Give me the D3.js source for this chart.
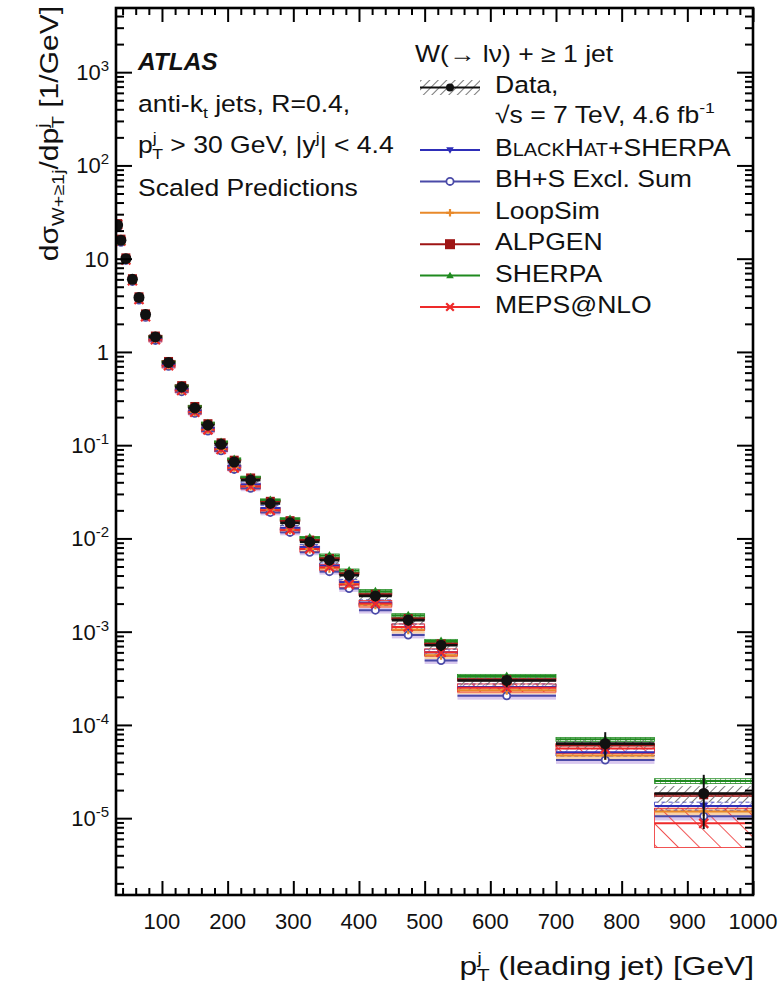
<!DOCTYPE html>
<html>
<head>
<meta charset="utf-8">
<script src="https://cdn.jsdelivr.net/npm/d3@7"></script>
<style>
  html, body { margin: 0; padding: 0; background: #fff; }
  svg { display: block; font-family: "Liberation Sans", Arial, Helvetica, sans-serif; }
</style>
</head>
<body>
<svg id="chart" width="783" height="990"></svg>
<script>
// Leading-jet pT bins [GeV]
const binEdges = [30, 35, 40, 50, 60, 70, 80, 100, 120, 140, 160, 180, 200, 220, 250,
                  280, 310, 340, 370, 400, 450, 500, 550, 700, 850, 1000];

// Measured cross section dσ/dpT [1/GeV]
const dataValues = [22.9, 15.8, 10.0, 6.0, 3.84, 2.52, 1.45, 0.77, 0.42, 0.25, 0.164, 0.102, 0.066,
                    0.0422, 0.0237, 0.0147, 0.00918, 0.00585, 0.00403, 0.00242, 0.00133, 0.000716,
                    0.00030, 0.000063, 0.0000184];
// relative statistical and systematic uncertainties of the data
const dataStat = [0.004, 0.004, 0.004, 0.004, 0.005, 0.005, 0.005, 0.006, 0.008, 0.010, 0.012, 0.014, 0.017,
                  0.020, 0.025, 0.030, 0.035, 0.040, 0.045, 0.050, 0.060, 0.080, 0.10, 0.30, 0.55];
const dataSys  = [0.10, 0.09, 0.08, 0.08, 0.08, 0.08, 0.08, 0.08, 0.08, 0.08, 0.08, 0.08, 0.09,
                  0.09, 0.09, 0.09, 0.10, 0.10, 0.10, 0.10, 0.11, 0.11, 0.12, 0.13, 0.20];

// Scaled predictions
const blackhatValues = [22.0, 15.5, 9.9, 5.9, 3.75, 2.45, 1.40, 0.74, 0.40, 0.235, 0.153, 0.094, 0.060,
                        0.038, 0.0212, 0.0130, 0.0081, 0.0051, 0.0034, 0.00205, 0.00112, 0.000600,
                        0.000255, 0.000051, 0.0000135];
const blackhatUnc = [0.05, 0.05, 0.05, 0.05, 0.05, 0.05, 0.05, 0.05, 0.05, 0.05, 0.05, 0.05, 0.05,
                     0.06, 0.06, 0.06, 0.06, 0.07, 0.07, 0.07, 0.08, 0.08, 0.08, 0.09, 0.10];

const exclSumValues = [21.5, 15.0, 9.6, 5.7, 3.6, 2.35, 1.33, 0.70, 0.375, 0.22, 0.142, 0.087, 0.055,
                       0.0345, 0.019, 0.0116, 0.0071, 0.0044, 0.0029, 0.00170, 0.00092, 0.00049,
                       0.000205, 0.000042, 0.0000105];
const exclSumUnc = [0.06, 0.06, 0.06, 0.06, 0.06, 0.06, 0.06, 0.06, 0.06, 0.06, 0.06, 0.06, 0.06,
                    0.07, 0.07, 0.07, 0.07, 0.07, 0.08, 0.08, 0.08, 0.08, 0.09, 0.09, 0.10];

const loopsimValues = [22.6, 15.6, 9.9, 5.9, 3.75, 2.45, 1.39, 0.73, 0.39, 0.228, 0.148, 0.091, 0.058,
                       0.0365, 0.0203, 0.0124, 0.0077, 0.0048, 0.0033, 0.00195, 0.00105, 0.000560,
                       0.000235, 0.000047, 0.0000118];
const loopsimUnc = [0.06, 0.06, 0.06, 0.06, 0.06, 0.06, 0.06, 0.06, 0.06, 0.06, 0.06, 0.06, 0.07,
                    0.07, 0.07, 0.07, 0.08, 0.08, 0.08, 0.08, 0.09, 0.09, 0.09, 0.10, 0.10];

const alpgenValues = [23.8, 16.2, 10.2, 6.1, 3.9, 2.56, 1.48, 0.79, 0.435, 0.26, 0.170, 0.106, 0.069,
                      0.0445, 0.0250, 0.0155, 0.0096, 0.0061, 0.0042, 0.00252, 0.00138, 0.00074,
                      0.000305, 0.000061, 0.0000178];
const alpgenUnc = [0.02, 0.02, 0.02, 0.02, 0.02, 0.02, 0.02, 0.02, 0.02, 0.02, 0.02, 0.02, 0.02,
                   0.02, 0.02, 0.02, 0.02, 0.03, 0.03, 0.03, 0.03, 0.03, 0.03, 0.03, 0.04];

const sherpaValues = [22.5, 15.2, 9.8, 5.9, 3.8, 2.5, 1.45, 0.78, 0.43, 0.26, 0.172, 0.108, 0.071,
                      0.0452, 0.0258, 0.0162, 0.0102, 0.00655, 0.00452, 0.00272, 0.00150, 0.000795,
                      0.000335, 0.000070, 0.0000250];
const sherpaUnc = [0.03, 0.03, 0.03, 0.03, 0.03, 0.03, 0.03, 0.03, 0.03, 0.03, 0.03, 0.03, 0.03,
                   0.03, 0.03, 0.03, 0.03, 0.04, 0.04, 0.04, 0.04, 0.04, 0.04, 0.05, 0.06];

const mepsValues = [23.2, 15.5, 9.7, 5.8, 3.65, 2.38, 1.35, 0.71, 0.385, 0.226, 0.146, 0.090, 0.057,
                    0.036, 0.020, 0.0123, 0.0077, 0.0049, 0.0032, 0.00200, 0.00112, 0.000600,
                    0.000250, 0.000056, 0.0000088];
const mepsUnc = [0.05, 0.05, 0.05, 0.05, 0.05, 0.05, 0.05, 0.05, 0.05, 0.05, 0.05, 0.05, 0.06,
                 0.06, 0.06, 0.06, 0.07, 0.07, 0.07, 0.08, 0.08, 0.09, 0.10, 0.12, 0.45];

// Axis ticks
const xTickValues = [100, 200, 300, 400, 500, 600, 700, 800, 900, 1000];
const yTickExponents = [-5, -4, -3, -2, -1, 0, 1, 2, 3];

// ------------------------------------------------------------------
const svg = d3.select("#chart");
const plot = { left: 116, right: 753, top: 8, bottom: 895 };

const x = d3.scaleLinear().domain([30, 1000]).range([plot.left, plot.right]);
const y = d3.scaleLog().domain([1.5e-6, 5000]).range([plot.bottom, plot.top - 1]);

const bins = d3.range(dataValues.length).map(i => ({
  lo: binEdges[i], hi: binEdges[i + 1], mid: (binEdges[i] + binEdges[i + 1]) / 2
}));

// hatch patterns
const defs = svg.append("defs");
function hatch(id, color, spacing, angle, width) {
  const p = defs.append("pattern").attr("id", id)
    .attr("patternUnits", "userSpaceOnUse")
    .attr("width", spacing).attr("height", spacing)
    .attr("patternTransform", `rotate(${angle})`);
  p.append("line").attr("x1", 0).attr("y1", 0).attr("x2", 0).attr("y2", spacing)
    .attr("stroke", color).attr("stroke-width", width);
}
hatch("hData", "#6a6a6a", 6, 45, 1.8);
hatch("hMeps", "#ee2a2a", 15, -45, 1.6);
hatch("hBlackhat", "#3a3ac0", 7, 45, 1.2);
hatch("hSherpa", "#2a8a2a", 5, 0, 1.2);
hatch("hAlpgen", "#a01818", 5, -45, 1.0);

const clipId = "plotClip";
defs.append("clipPath").attr("id", clipId).append("rect")
  .attr("x", plot.left).attr("y", plot.top)
  .attr("width", plot.right - plot.left).attr("height", plot.bottom - plot.top);

const gPlot = svg.append("g").attr("clip-path", `url(#${clipId})`);

// prediction series description
const series = [
  { key: "exclsum",  values: exclSumValues,  unc: exclSumUnc,  color: "#4a4aa8", band: "#d9c8ee", marker: "circleOpen" },
  { key: "loopsim",  values: loopsimValues,  unc: loopsimUnc,  color: "#e8892a", band: "#f8d2a8", marker: "plus" },
  { key: "blackhat", values: blackhatValues, unc: blackhatUnc, color: "#2e2eb8", band: "url(#hBlackhat)", marker: "triDown" },
  { key: "meps",     values: mepsValues,     unc: mepsUnc,     color: "#ee2a2a", band: "url(#hMeps)", marker: "cross" },
  { key: "alpgen",   values: alpgenValues,   unc: alpgenUnc,   color: "#9e1414", band: "url(#hAlpgen)", marker: "square" },
  { key: "sherpa",   values: sherpaValues,   unc: sherpaUnc,   color: "#1f8a1f", band: "url(#hSherpa)", marker: "triUp" }
];

// uncertainty bands
series.forEach(s => {
  gPlot.append("g").selectAll("rect").data(bins).join("rect")
    .attr("x", d => x(d.lo)).attr("width", d => x(d.hi) - x(d.lo))
    .attr("y", (d, i) => y(s.values[i] * (1 + s.unc[i])))
    .attr("height", (d, i) => y(s.values[i] * (1 - s.unc[i])) - y(s.values[i] * (1 + s.unc[i])))
    .attr("fill", s.band)
    .attr("stroke", s.band.startsWith("url") ? s.color : "none")
    .attr("stroke-width", 0.8)
    .attr("stroke-dasharray", s.key === "blackhat" ? "4,3" : null);
});

// data systematic band
gPlot.append("g").selectAll("rect").data(bins).join("rect")
  .attr("x", d => x(d.lo)).attr("width", d => x(d.hi) - x(d.lo))
  .attr("y", (d, i) => y(dataValues[i] * (1 + dataSys[i])))
  .attr("height", (d, i) => y(dataValues[i] * (1 - dataSys[i])) - y(dataValues[i] * (1 + dataSys[i])))
  .attr("fill", "url(#hData)");

// prediction central lines
series.forEach(s => {
  gPlot.append("g").selectAll("line").data(bins).join("line")
    .attr("x1", d => x(d.lo)).attr("x2", d => x(d.hi))
    .attr("y1", (d, i) => y(s.values[i])).attr("y2", (d, i) => y(s.values[i]))
    .attr("stroke", s.color).attr("stroke-width", 2);
});

// data central lines
gPlot.append("g").selectAll("line").data(bins).join("line")
  .attr("x1", d => x(d.lo)).attr("x2", d => x(d.hi))
  .attr("y1", (d, i) => y(dataValues[i])).attr("y2", (d, i) => y(dataValues[i]))
  .attr("stroke", "#111").attr("stroke-width", 2.6);

// marker drawing
function drawMarker(g, type, cx, cy, color, size) {
  const r = size;
  switch (type) {
    case "circleOpen":
      g.append("circle").attr("cx", cx).attr("cy", cy).attr("r", r * 0.8)
        .attr("fill", "#fff").attr("stroke", color).attr("stroke-width", 1.8); break;
    case "plus":
      g.append("path").attr("d", `M${cx - r},${cy}H${cx + r}M${cx},${cy - r}V${cy + r}`)
        .attr("stroke", color).attr("stroke-width", 2.2); break;
    case "triDown":
      g.append("path").attr("d", `M${cx - r},${cy - r * 0.7}L${cx + r},${cy - r * 0.7}L${cx},${cy + r}Z`)
        .attr("fill", color); break;
    case "triUp":
      g.append("path").attr("d", `M${cx - r},${cy + r * 0.7}L${cx + r},${cy + r * 0.7}L${cx},${cy - r}Z`)
        .attr("fill", color); break;
    case "square":
      g.append("rect").attr("x", cx - r).attr("y", cy - r).attr("width", 2 * r).attr("height", 2 * r)
        .attr("fill", color); break;
    case "cross":
      g.append("path").attr("d", `M${cx - r},${cy - r}L${cx + r},${cy + r}M${cx - r},${cy + r}L${cx + r},${cy - r}`)
        .attr("stroke", color).attr("stroke-width", 2.2); break;
    case "dot":
      g.append("circle").attr("cx", cx).attr("cy", cy).attr("r", r).attr("fill", color); break;
  }
}

// prediction markers
const gMarks = gPlot.append("g");
series.forEach(s => {
  bins.forEach((b, i) => drawMarker(gMarks, s.marker, x(b.mid), y(s.values[i]), s.color, 4.5));
});

// data error bars and points
const gData = gPlot.append("g");
bins.forEach((b, i) => {
  const tot = Math.sqrt(dataStat[i] ** 2 + dataSys[i] ** 2);
  gData.append("line")
    .attr("x1", x(b.mid)).attr("x2", x(b.mid))
    .attr("y1", y(dataValues[i] * (1 + tot))).attr("y2", y(dataValues[i] * (1 - Math.min(tot, 0.9))))
    .attr("stroke", "#111").attr("stroke-width", 2);
  drawMarker(gData, "dot", x(b.mid), y(dataValues[i]), "#111", 5.5);
});

// ---------------- axes and frame ----------------
const gAxes = svg.append("g");
const xMinor = d3.range(40, 1000, 20).filter(v => v % 100 !== 0);
const yMinor = [];
for (let e = -6; e <= 3; e++) for (let k = 2; k <= 9; k++) {
  const v = k * Math.pow(10, e);
  if (v > 1.5e-6 && v < 5000) yMinor.push(v);
}
const yMajor = yTickExponents.map(e => Math.pow(10, e));

function axis(gen, scale, ticks, size, transform) {
  gAxes.append("g").attr("transform", transform)
    .call(gen(scale).tickValues(ticks).tickSize(size).tickFormat(""))
    .call(g => g.select(".domain").remove())
    .call(g => g.selectAll("line").attr("stroke", "#000").attr("stroke-width", 2));
}
axis(d3.axisBottom, x, xTickValues, -14, `translate(0,${plot.bottom})`);
axis(d3.axisBottom, x, xMinor, -7, `translate(0,${plot.bottom})`);
axis(d3.axisTop, x, xTickValues, -14, `translate(0,${plot.top})`);
axis(d3.axisTop, x, xMinor, -7, `translate(0,${plot.top})`);
axis(d3.axisLeft, y, yMajor, -16, `translate(${plot.left},0)`);
axis(d3.axisLeft, y, yMinor, -8, `translate(${plot.left},0)`);
axis(d3.axisRight, y, yMajor, -16, `translate(${plot.right},0)`);
axis(d3.axisRight, y, yMinor, -8, `translate(${plot.right},0)`);

gAxes.append("rect")
  .attr("x", plot.left).attr("y", plot.top)
  .attr("width", plot.right - plot.left).attr("height", plot.bottom - plot.top)
  .attr("fill", "none").attr("stroke", "#000").attr("stroke-width", 2.6);

// tick labels
const labelSize = 22;
gAxes.append("g").selectAll("text").data(xTickValues).join("text")
  .attr("x", d => x(d)).attr("y", plot.bottom + 34)
  .attr("text-anchor", "middle").attr("font-size", labelSize).attr("fill", "#111")
  .text(d => d);

yTickExponents.forEach(e => {
  const t = gAxes.append("text")
    .attr("x", 109).attr("y", y(Math.pow(10, e)) + 8)
    .attr("text-anchor", "end").attr("font-size", labelSize).attr("fill", "#111");
  if (e === 0) t.text("1");
  else if (e === 1) t.text("10");
  else {
    t.append("tspan").text("10");
    t.append("tspan").attr("font-size", 15).attr("dy", -9).text(e);
  }
});

// rich text helper: parts are {t, fs, dy, dx, weight, style}
function richText(parent, tx, ty, parts, opt = {}) {
  const sx = opt.sx || 1;
  const base = opt.fs || 23.3;
  const t = parent.append("text")
    .attr("transform", `translate(${tx},${ty}) ${opt.rotate ? `rotate(${opt.rotate})` : ""} scale(${sx},1)`)
    .attr("text-anchor", opt.anchor || "start")
    .attr("fill", "#111");
  parts.forEach(p => {
    const s = t.append("tspan").text(p.t).attr("font-size", p.fs || base);
    if (p.dy) s.attr("dy", p.dy);
    if (p.dx) s.attr("dx", p.dx);
    if (p.weight) s.attr("font-weight", p.weight);
    if (p.style) s.attr("font-style", p.style);
  });
  return t;
}

const SX = 1.14;
const gText = svg.append("g");

// axis titles
richText(gText, 58, 6, [
  { t: "dσ" },
  { t: "W+≥1j", fs: 16.5, dy: 6 },
  { t: "/dp", dy: -6 },
  { t: "j", fs: 16.5, dy: -10 },
  { t: "T", fs: 16.5, dx: -4, dy: 16 },
  { t: " [1/GeV]", dy: -6 }
], { anchor: "end", rotate: -90, sx: 1.2, fs: 25 });

richText(gText, 754, 975, [
  { t: "p" },
  { t: "j", fs: 17, dy: -11 },
  { t: "T", fs: 17, dx: -4, dy: 17 },
  { t: " (leading jet) [GeV]", dy: -6 }
], { anchor: "end", sx: 1.22, fs: 26 });

// annotations
richText(gText, 138, 70, [{ t: "ATLAS", weight: "bold", style: "italic" }], { sx: 1.05 });
richText(gText, 138, 112, [
  { t: "anti-k" }, { t: "t", fs: 15.5, dy: 6 }, { t: " jets, R=0.4,", dy: -6 }
], { sx: SX });
richText(gText, 138, 153, [
  { t: "p" }, { t: "j", fs: 15.5, dy: -10 }, { t: "T", fs: 15.5, dx: -4, dy: 16 },
  { t: " > 30 GeV, |y", dy: -6 }, { t: "j", fs: 15.5, dy: -10 }, { t: "| < 4.4", dy: 10 }
], { sx: SX });
richText(gText, 138, 196, [{ t: "Scaled Predictions" }], { sx: SX });

// legend
const gLeg = svg.append("g");
richText(gLeg, 415, 62, [{ t: "W(→ lν) + ≥ 1 jet" }], { sx: SX });

// data entry
gLeg.append("rect").attr("x", 420).attr("y", 80).attr("width", 60).attr("height", 15).attr("fill", "url(#hData)");
gLeg.append("line").attr("x1", 420).attr("x2", 480).attr("y1", 87.5).attr("y2", 87.5)
  .attr("stroke", "#111").attr("stroke-width", 2);
drawMarker(gLeg, "dot", 450, 87.5, "#111", 4);
richText(gLeg, 495, 93, [{ t: "Data," }], { sx: SX });
richText(gLeg, 495, 123, [{ t: "√s = 7 TeV, 4.6 fb" }, { t: "-1", fs: 15.5, dy: -10 }], { sx: SX });

const legendRows = [
  { marker: "triDown", color: "#2e2eb8", parts: [{ t: "B" }, { t: "LACK", fs: 17.5 }, { t: "H" }, { t: "AT", fs: 17.5 }, { t: "+SHERPA" }] },
  { marker: "circleOpen", color: "#4a4aa8", parts: [{ t: "BH+S Excl. Sum" }] },
  { marker: "plus", color: "#e8892a", parts: [{ t: "LoopSim" }] },
  { marker: "square", color: "#9e1414", parts: [{ t: "ALPGEN" }] },
  { marker: "triUp", color: "#1f8a1f", parts: [{ t: "SHERPA" }] },
  { marker: "cross", color: "#ee2a2a", parts: [{ t: "MEPS@NLO" }] }
];
legendRows.forEach((r, i) => {
  const base = 156 + i * 31.4;
  const ly = base - 6;
  gLeg.append("line").attr("x1", 420).attr("x2", 480).attr("y1", ly).attr("y2", ly)
    .attr("stroke", r.color).attr("stroke-width", 2);
  const sz = r.marker === "square" ? 5 : (r.marker === "circleOpen" ? 4.5 : 3.8);
  drawMarker(gLeg, r.marker, 450, ly, r.color, sz);
  richText(gLeg, 495, base, r.parts, { sx: SX });
});
</script>
</body>
</html>
